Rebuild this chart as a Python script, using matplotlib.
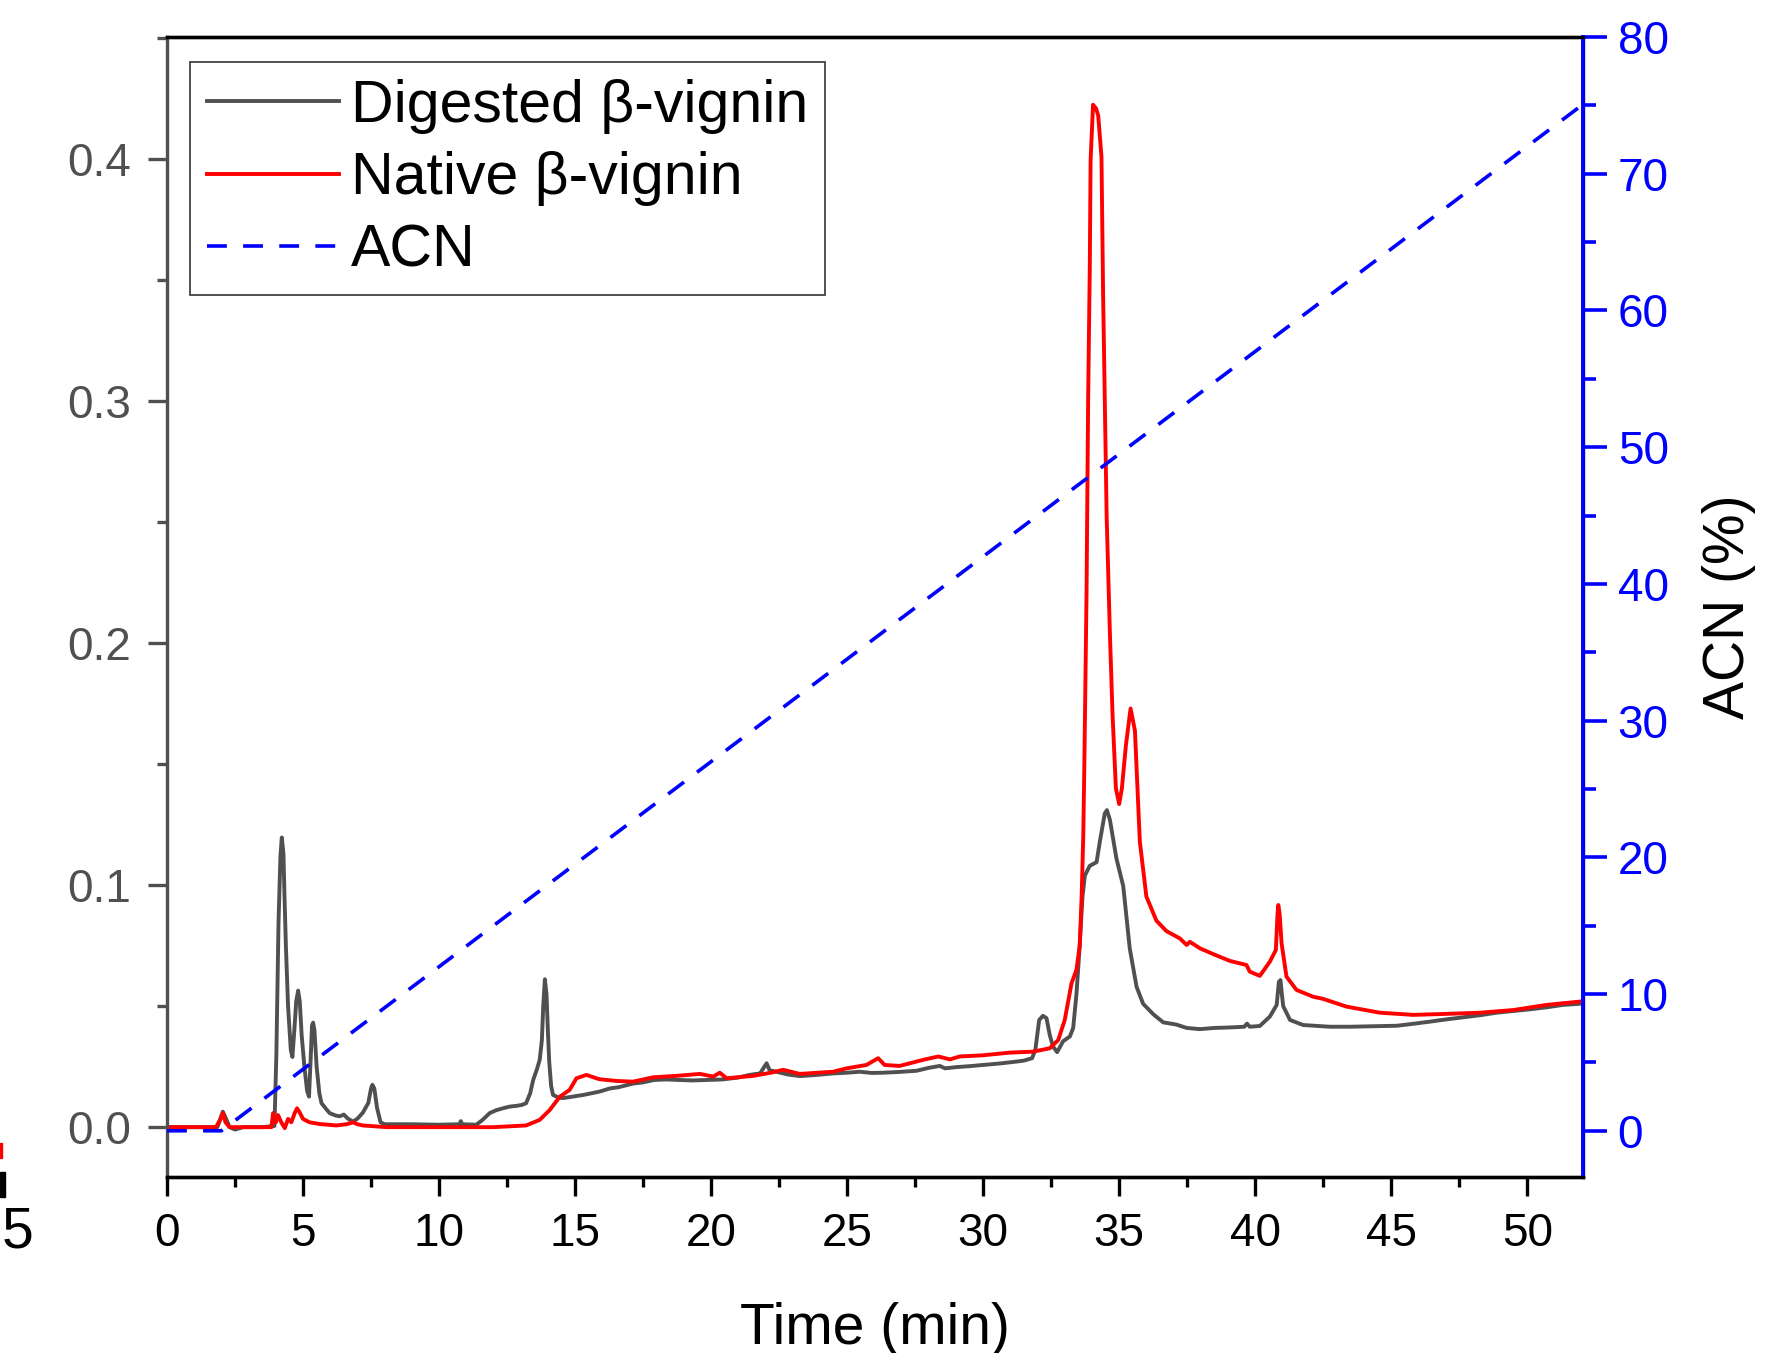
import numpy as np
import matplotlib
matplotlib.use("Agg")
import matplotlib.pyplot as plt
from matplotlib.ticker import MultipleLocator, FormatStrFormatter
from matplotlib.patches import Rectangle

plt.rcParams['font.family'] = ['Liberation Sans', 'DejaVu Sans']

# digested beta-vignin trace (time in min, absorbance)
dig_t = [0.0, 1.0, 1.85, 1.95, 2.05, 2.15, 2.3, 2.5, 2.8, 3.5, 3.95, 4.02, 4.1, 4.17, 4.22,
         4.28, 4.32, 4.37, 4.45, 4.55, 4.61, 4.68, 4.75, 4.82, 4.88, 4.95, 5.05, 5.15, 5.22,
         5.28, 5.33, 5.37, 5.42, 5.5, 5.6, 5.68, 5.85, 5.98, 6.2, 6.35, 6.5, 6.65, 6.84, 7.0,
         7.2, 7.4, 7.5, 7.55, 7.62, 7.72, 7.85, 8.0, 9.0, 10.0, 10.75, 10.8, 10.85, 11.37,
         11.6, 11.86, 12.1, 12.35, 12.6, 12.84, 13.05, 13.2, 13.35, 13.46, 13.6, 13.7, 13.78,
         13.83, 13.89, 13.95, 14.0, 14.05, 14.12, 14.19, 14.4, 14.56, 15.0, 15.3, 15.9, 16.28,
         16.6, 17.13, 17.5, 17.9, 18.35, 18.8, 19.3, 19.9, 20.4, 21.0, 21.42, 21.8, 22.04,
         22.15, 22.4, 22.8, 23.26, 23.8, 24.48, 25.0, 25.46, 25.9, 26.32, 26.9, 27.55, 28.0,
         28.41, 28.6, 29.0, 29.5, 30.0, 30.6, 31.23, 31.5, 31.8, 31.92, 32.0, 32.06, 32.2,
         32.33, 32.45, 32.57, 32.72, 32.94, 33.19, 33.31, 33.43, 33.55, 33.65, 33.74, 33.92,
         34.17, 34.29, 34.47, 34.55, 34.66, 34.9, 35.15, 35.39, 35.64, 35.88, 36.25, 36.62,
         37.1, 37.48, 37.97, 38.5, 39.07, 39.6, 39.7, 39.8, 40.17, 40.54, 40.79, 40.87, 40.93,
         40.98, 41.03, 41.28, 41.76, 42.74, 43.5, 44.3, 45.2, 45.8, 46.42, 47.0, 47.65, 48.3,
         48.87, 49.5, 50.1, 50.7, 51.3, 51.94]
dig_a = [0.0, 0.0, 0.0, 0.003, 0.0064, 0.004, 0.0, -0.001, 0.0, 0.0, 0.0005, 0.03, 0.085,
         0.112, 0.1197, 0.113, 0.095, 0.075, 0.05, 0.032, 0.029, 0.04, 0.052, 0.0564, 0.052,
         0.038, 0.025, 0.015, 0.0126, 0.028, 0.042, 0.0432, 0.04, 0.025, 0.014, 0.0099, 0.0075,
         0.0058, 0.0048, 0.0045, 0.0052, 0.0035, 0.0023, 0.0035, 0.006, 0.01, 0.016, 0.0175,
         0.016, 0.008, 0.002, 0.0012, 0.0012, 0.001, 0.0012, 0.0025, 0.0012, 0.001, 0.003,
         0.0058, 0.007, 0.0078, 0.0085, 0.0088, 0.0092, 0.0099, 0.014, 0.0195, 0.024, 0.0278,
         0.036, 0.05, 0.0611, 0.055, 0.04, 0.027, 0.017, 0.0133, 0.0122, 0.012, 0.0128, 0.0133,
         0.0147, 0.016, 0.0165, 0.018, 0.0185, 0.0195, 0.0197, 0.0195, 0.0193, 0.0195, 0.0197,
         0.0205, 0.0216, 0.0222, 0.0264, 0.0235, 0.0229, 0.0218, 0.0211, 0.0215, 0.0222,
         0.0225, 0.0229, 0.0224, 0.0225, 0.0228, 0.0233, 0.0245, 0.0253, 0.0243, 0.0248,
         0.0252, 0.0257, 0.0263, 0.0271, 0.0275, 0.0285, 0.032, 0.039, 0.0443, 0.046, 0.045,
         0.038, 0.0333, 0.031, 0.0355, 0.0375, 0.041, 0.055, 0.075, 0.095, 0.104, 0.108,
         0.1095, 0.118, 0.1296, 0.131, 0.127, 0.111, 0.0996, 0.0738, 0.058, 0.051, 0.0467,
         0.0433, 0.0424, 0.041, 0.0405, 0.041, 0.0412, 0.0415, 0.0428, 0.0415, 0.0418, 0.0457,
         0.0505, 0.06, 0.0608, 0.055, 0.05, 0.0443, 0.0422, 0.0415, 0.0415, 0.0417, 0.0419,
         0.0427, 0.0436, 0.0445, 0.0454, 0.0463, 0.0473, 0.048, 0.0487, 0.0495, 0.0505, 0.051]

# native beta-vignin trace
nat_t = [0.0, 1.8, 1.95, 2.06, 2.15, 2.3, 3.84, 3.9, 3.95, 4.0, 4.08, 4.2, 4.33, 4.45, 4.57,
         4.7, 4.78, 4.88, 5.0, 5.24, 5.61, 6.22, 6.6, 6.84, 7.0, 7.2, 8.07, 10.0, 12.0, 13.2,
         13.7, 14.07, 14.44, 14.8, 15.05, 15.42, 15.78, 15.9, 16.52, 17.13, 17.87, 18.73,
         19.59, 20.08, 20.32, 20.57, 21.55, 22.2, 22.65, 23.26, 24.48, 24.98, 25.71, 26.14,
         26.38, 26.93, 27.79, 28.35, 28.78, 29.14, 30.0, 30.98, 31.84, 32.45, 32.76, 33.0,
         33.25, 33.43, 33.55, 33.62, 33.68, 33.72, 33.8, 33.86, 33.92, 33.95, 34.04, 34.15,
         34.23, 34.35, 34.41, 34.54, 34.66, 34.76, 34.88, 35.0, 35.1, 35.25, 35.42, 35.58,
         35.76, 36.0, 36.37, 36.74, 37.23, 37.48, 37.6, 37.97, 38.46, 39.07, 39.68, 39.8,
         40.17, 40.54, 40.76, 40.82, 40.85, 40.9, 40.97, 41.15, 41.52, 42.13, 42.5, 43.36,
         44.58, 45.81, 47.0, 48.26, 49.49, 50.7, 51.94]
nat_a = [0.0, 0.0, 0.003, 0.0058, 0.002, 0.0, 0.0, 0.0058, 0.002, 0.002, 0.005, 0.002,
         -0.0004, 0.0034, 0.002, 0.006, 0.0078, 0.006, 0.0034, 0.002, 0.0013, 0.0007, 0.0012,
         0.002, 0.0012, 0.0007, 0.0, 0.0, 0.0, 0.0007, 0.003, 0.0071, 0.0126, 0.0154, 0.0202,
         0.0216, 0.0202, 0.0198, 0.0191, 0.0188, 0.0206, 0.0212, 0.022, 0.0209, 0.0225, 0.0202,
         0.0212, 0.0225, 0.0237, 0.022, 0.0229, 0.0243, 0.0257, 0.0285, 0.0257, 0.0253, 0.0278,
         0.0292, 0.028, 0.0292, 0.0297, 0.0308, 0.0312, 0.0326, 0.036, 0.0443, 0.0595, 0.065,
         0.075, 0.095, 0.12, 0.1496, 0.2196, 0.301, 0.355, 0.3996, 0.4225, 0.421, 0.418, 0.401,
         0.344, 0.2524, 0.2038, 0.1696, 0.140, 0.1335, 0.140, 0.158, 0.173, 0.1638, 0.118,
         0.0953, 0.0853, 0.081, 0.078, 0.0753, 0.0766, 0.0739, 0.0715, 0.0687, 0.067, 0.0643,
         0.0625, 0.0684, 0.0732, 0.088, 0.0918, 0.088, 0.076, 0.0622, 0.0567, 0.0539, 0.053,
         0.0498, 0.0473, 0.0464, 0.0468, 0.0473, 0.0484, 0.0505, 0.0519]

# acetonitrile gradient (%)
acn_t = [0.0, 2.0, 52.0]
acn_pct = [0.0, 0.0, 75.0]

fig = plt.figure(figsize=(17.73, 13.53), dpi=100)
ax = fig.add_axes([167 / 1773, 1 - 1177 / 1353, 1416 / 1773, 1140 / 1353])
ax2 = ax.twinx()

gray = '#505050'
l1, = ax.plot(dig_t, dig_a, color=gray, lw=2.8, label='Digested β-vignin')
l2, = ax.plot(nat_t, nat_a, color='#ff0000', lw=2.8, label='Native β-vignin')
l3, = ax2.plot(acn_t, acn_pct, color='#0000ff', lw=2.6, ls=(0, (5.5, 4.5)), label='ACN')

ax.set_xlim(0, 52.05)
ax.set_ylim(-0.0206, 0.4505)
ax2.set_ylim(-3.38, 80.0)

ax.xaxis.set_major_locator(MultipleLocator(5))
ax.xaxis.set_minor_locator(MultipleLocator(2.5))
ax.yaxis.set_major_locator(MultipleLocator(0.1))
ax.yaxis.set_minor_locator(MultipleLocator(0.05))
ax.yaxis.set_major_formatter(FormatStrFormatter('%.1f'))
ax2.yaxis.set_major_locator(MultipleLocator(10))
ax2.yaxis.set_minor_locator(MultipleLocator(5))

for a in (ax, ax2):
    for s in a.spines.values():
        s.set_linewidth(2.4)
ax.spines['left'].set_color(gray)
ax.spines['bottom'].set_color('black')
ax.spines['top'].set_color('black')
ax2.spines['right'].set_color('#0000ff')
ax2.spines['right'].set_linewidth(2.8)
ax2.spines['left'].set_visible(False)
ax2.spines['top'].set_color('black')

ax.tick_params(axis='x', which='major', direction='out', length=14, width=2.4,
               labelsize=33, pad=11, colors='black', top=False)
ax.tick_params(axis='x', which='minor', direction='out', length=7, width=2.4, top=False)
ax.tick_params(axis='y', which='major', direction='out', length=14, width=2.4,
               labelsize=33, pad=12, colors=gray)
ax.tick_params(axis='y', which='minor', direction='out', length=7, width=2.4, colors=gray)
ax2.tick_params(axis='y', which='major', direction='out', length=17, width=2.6,
                labelsize=33, pad=8, colors='#0000ff')
ax2.tick_params(axis='y', which='minor', direction='out', length=9, width=2.6, colors='#0000ff')

ax.set_xlabel('Time (min)', fontsize=41, labelpad=33)
ax2.set_ylabel('ACN (%)', fontsize=41, labelpad=24, color='black')

leg = ax2.legend(handles=[l1, l2, l3], loc='upper left',
                 bbox_to_anchor=(23 / 1416, 1 - 25 / 1140), borderaxespad=0,
                 fontsize=42.5, handlelength=2.25, handletextpad=0.2,
                 labelspacing=0.3, borderpad=0.28, fancybox=False, framealpha=1)
leg.get_frame().set_edgecolor('#333333')
leg.get_frame().set_linewidth(1.2)

# remnants of a neighbouring panel at the left edge
fig.text(0.001, 1 - 1232 / 1353, '5', fontsize=41, ha='left', va='center')
fig.patches.append(Rectangle((0, 1 - 1197 / 1353), 5 / 1773, 25 / 1353,
                             transform=fig.transFigure, color='black'))
fig.patches.append(Rectangle((0, 1 - 1158 / 1353), 2 / 1773, 15 / 1353,
                             transform=fig.transFigure, color='#ff0000'))

fig.savefig('out.png', dpi=100)
